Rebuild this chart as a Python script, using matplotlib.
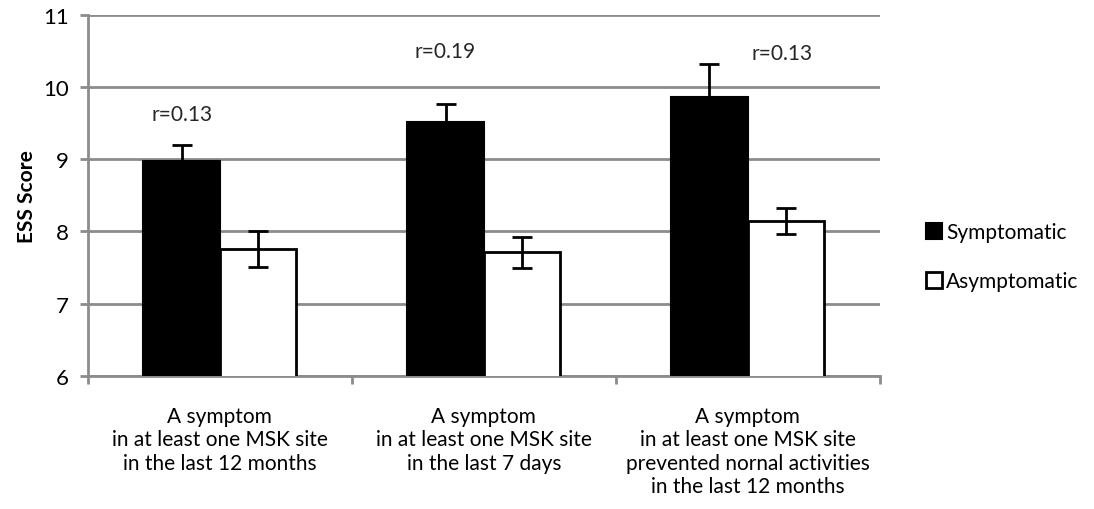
import numpy as np
import matplotlib.pyplot as plt

plt.rcParams['font.family'] = ['Lato', 'DejaVu Sans']

categories = ["A symptom\nin at least one MSK site\nin the last 12 months",
              "A symptom\nin at least one MSK site\nin the last 7 days",
              "A symptom\nin at least one MSK site\nprevented nornal activities\nin the last 12 months"]
symp = [8.98, 9.52, 9.86]
symp_err = [0.22, 0.25, 0.46]
asymp = [7.76, 7.71, 8.14]
asymp_err = [0.25, 0.22, 0.18]
r_labels = ["r=0.13", "r=0.19", "r=0.13"]
r_pos = [9.62, 10.5, 10.47]
r_shift = [-0.145, -0.148, 0.13]

fig = plt.figure(figsize=(10.94, 5.10), dpi=100)
ax = fig.add_axes([0.0804, 0.261, 0.7236, 0.708])

x = np.arange(len(categories))
w = 0.29
ax.bar(x - w/2, symp, w, color='black', edgecolor='black', lw=1.5,
       yerr=symp_err, error_kw=dict(ecolor='black', elinewidth=2, capsize=7, capthick=2),
       label='Symptomatic', zorder=3)
ax.bar(x + w/2, asymp, w, color='white', edgecolor='black', lw=2,
       yerr=asymp_err, error_kw=dict(ecolor='black', elinewidth=2, capsize=7, capthick=2),
       label='Asymptomatic', zorder=3)

for i in range(len(categories)):
    ax.text(x[i] + r_shift[i], r_pos[i], r_labels[i], ha='center', va='center',
            fontsize=15, color='#262626')

ax.set_ylim(6, 11)
ax.set_xlim(-0.5, 2.5)
ax.set_yticks([6, 7, 8, 9, 10, 11])
ax.yaxis.grid(True, color='#8c8c8c', lw=2)
ax.set_axisbelow(True)
for s in ['top', 'right']:
    ax.spines[s].set_visible(False)
for s in ['left', 'bottom']:
    ax.spines[s].set_color('#8c8c8c')
    ax.spines[s].set_linewidth(2)
ax.tick_params(axis='y', colors='#8c8c8c', width=2, length=6, labelsize=16, labelcolor='black', pad=8)
ax.set_xticks([-0.5, 0.5, 1.5, 2.5])
ax.set_xticklabels([])
ax.tick_params(axis='x', colors='#8c8c8c', width=2, length=6)
for i in range(len(categories)):
    ax.text(x[i], 5.58, categories[i], ha='center', va='top', fontsize=15,
            linespacing=1.2)
ax.set_ylabel("ESS Score", fontsize=15, fontweight='bold', labelpad=4)

ax.legend(loc='center left', bbox_to_anchor=(1.035, 0.33), frameon=False, fontsize=15,
          handlelength=0.75, handleheight=0.75, handletextpad=0.2, labelspacing=1.4)

plt.savefig("out.png", dpi=100)
